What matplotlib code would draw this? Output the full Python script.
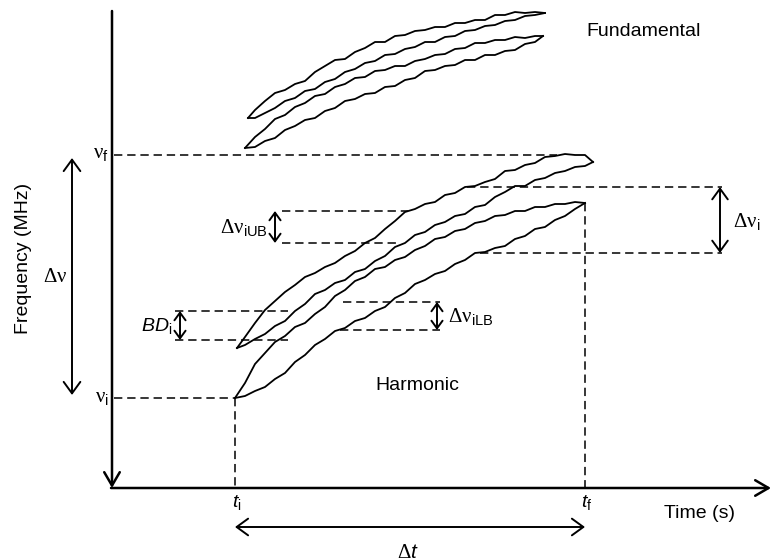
import matplotlib
matplotlib.use("Agg")
import matplotlib.pyplot as plt

plt.rcParams['font.family'] = ['Liberation Sans', 'DejaVu Sans']
plt.rcParams['mathtext.fontset'] = 'custom'
plt.rcParams['mathtext.rm'] = 'Liberation Serif'
plt.rcParams['mathtext.sf'] = 'Liberation Sans'
plt.rcParams['mathtext.it'] = 'Liberation Sans:italic'
plt.rcParams['mathtext.bf'] = 'Liberation Sans:bold'
plt.rcParams['lines.scale_dashes'] = False

# sketch units: time to the right, frequency drawn downwards (y axis inverted)
# harmonic band, upper lobe
h1_t = [237, 245, 255, 265, 275, 285, 295, 305, 315, 325, 335, 345, 355, 365, 375,
        385, 395, 405, 415, 425, 435, 445, 455, 465, 475, 485, 495, 505, 515, 525,
        535, 545, 555, 565, 575, 585, 593]
h1_top = [348, 337, 323, 310, 301, 292, 285, 277, 273, 267, 263, 256, 251, 243, 238,
          229, 221, 212, 209, 204, 202, 195, 193, 187, 186, 182, 179, 171, 170, 165,
          163, 157, 156, 154, 155, 155, 162]
h1_bot = [348, 345, 339, 334, 326, 321, 311, 304, 294, 290, 283, 280, 272, 269, 261,
          256, 247, 243, 235, 232, 225, 222, 216, 214, 207, 205, 197, 192, 186, 186,
          180, 178, 173, 171, 167, 166, 162]

# harmonic band, lower lobe
h2_t = [235, 245, 255, 265, 275, 285, 295, 305, 315, 325, 335, 345, 355, 365, 375,
        385, 395, 405, 415, 425, 435, 445, 455, 465, 475, 485, 495, 505, 515, 525,
        535, 545, 555, 565, 575, 585]
h2_top = [398, 383, 364, 353, 342, 336, 327, 323, 314, 307, 296, 290, 281, 277, 269,
          267, 260, 257, 250, 246, 239, 237, 231, 229, 223, 221, 216, 215, 211, 211,
          207, 207, 204, 204, 202, 203]
h2_bot = [398, 396, 391, 387, 379, 373, 362, 355, 345, 339, 331, 328, 321, 318, 311,
          307, 298, 293, 284, 280, 274, 271, 264, 260, 253, 252, 248, 246, 239, 236,
          229, 227, 220, 216, 209, 203]

# fundamental band, upper lobe
f1_t = [248, 255, 265, 275, 285, 295, 305, 315, 325, 335, 345, 355, 365, 375, 385,
        395, 405, 415, 425, 435, 445, 455, 465, 475, 485, 495, 505, 515, 525, 535, 545]
f1_top = [118, 110, 101, 93, 90, 84, 81, 72, 66, 60, 59, 52, 48, 42, 42,
          36, 35, 31, 30, 27, 27, 23, 23, 20, 20, 15, 15, 12, 13, 12, 13]
f1_bot = [118, 118, 113, 108, 101, 98, 91, 89, 82, 79, 72, 69, 63, 61, 55,
          54, 49, 47, 42, 42, 37, 36, 31, 30, 26, 25, 21, 20, 16, 15, 13]

# fundamental band, lower lobe
f2_t = [245, 255, 265, 275, 285, 295, 305, 315, 325, 335, 345, 355, 365, 375, 385,
        395, 405, 415, 425, 435, 445, 455, 465, 475, 485, 495, 505, 515, 525, 535, 543]
f2_top = [148, 137, 129, 119, 115, 107, 103, 96, 94, 87, 84, 78, 77, 71, 70,
          66, 66, 61, 59, 55, 54, 49, 48, 43, 43, 40, 40, 37, 38, 36, 36]
f2_bot = [148, 147, 141, 138, 130, 126, 120, 118, 111, 108, 101, 99, 94, 93, 87,
          86, 80, 78, 71, 70, 66, 65, 60, 60, 55, 55, 51, 50, 44, 42, 36]

# reference levels
nu_f, nu_i = 155, 398
t_i, t_f = 235, 585
origin_t, origin_nu = 112, 488

fig = plt.figure(figsize=(7.74, 5.6), dpi=100)
ax = fig.add_axes([0, 0, 1, 1])
ax.set_xlim(0, 774)
ax.set_ylim(560, 0)
ax.axis('off')

for t, top, bot in [(h1_t, h1_top, h1_bot), (h2_t, h2_top, h2_bot),
                    (f1_t, f1_top, f1_bot), (f2_t, f2_top, f2_bot)]:
    ax.plot(t, top, color='k', lw=1.3, solid_joinstyle='round')
    ax.plot(t, bot, color='k', lw=1.3, solid_joinstyle='round')


def dashed(xs, ys):
    ax.plot(xs, ys, color='k', lw=1.1, dashes=(6, 3.5))


dashed([origin_t + 2, 557], [nu_f, nu_f])
dashed([origin_t + 2, t_i], [nu_i, nu_i])
dashed([t_i, t_i], [nu_i, origin_nu])
dashed([t_f, t_f], [203, origin_nu])
dashed([282, 408], [211, 211])
dashed([282, 400], [243, 243])
dashed([175, 288], [311, 311])
dashed([175, 288], [340, 340])
dashed([343, 440], [302, 302])
dashed([340, 440], [330, 330])
dashed([467, 722], [187, 187])
dashed([480, 722], [253, 253])


def dim_arrow(p0, p1, scale=10):
    ax.annotate('', xy=p1, xytext=p0,
                arrowprops=dict(arrowstyle='<->,head_length=0.55,head_width=0.4',
                                lw=1.4, color='k', shrinkA=0, shrinkB=0,
                                mutation_scale=scale))


# axes
ax.annotate('', xy=(origin_t, origin_nu), xytext=(origin_t, 11),
            arrowprops=dict(arrowstyle='->,head_length=0.6,head_width=0.35',
                            lw=1.8, color='k', shrinkA=0, shrinkB=0, mutation_scale=16))
ax.annotate('', xy=(771, origin_nu), xytext=(origin_t - 1, origin_nu),
            arrowprops=dict(arrowstyle='->,head_length=0.6,head_width=0.35',
                            lw=1.8, color='k', shrinkA=0, shrinkB=0, mutation_scale=16))

dim_arrow((72, 158), (72, 395), scale=15)
dim_arrow((275, 211), (275, 243))
dim_arrow((180, 311), (180, 340))
dim_arrow((437, 302), (437, 330))
dim_arrow((720, 187), (720, 253), scale=14)
dim_arrow((t_i, 527), (t_f, 527), scale=15)

fs = 14
ax.text(586, 32, 'Fundamental', fontsize=fs, ha='left', va='center')
ax.text(417, 385, 'Harmonic', fontsize=fs, ha='center', va='center')
ax.text(700, 513, 'Time (s)', fontsize=fs, ha='center', va='center')
ax.text(24, 258, 'Frequency (MHz)', fontsize=fs, ha='center', va='center', rotation=90)
ax.text(109, nu_f, r'$\mathrm{\nu}_{\mathsf{f}}$', fontsize=fs + 1, ha='right', va='center')
ax.text(109, nu_i, r'$\mathrm{\nu}_{\mathsf{i}}$', fontsize=fs + 1, ha='right', va='center')
ax.text(55, 277, r'$\mathrm{\Delta\nu}$', fontsize=fs + 1, ha='center', va='center')
ax.text(t_i + 2, 503, r'$t_{\mathsf{i}}$', fontsize=fs, ha='center', va='center')
ax.text(t_f + 2, 503, r'$t_{\mathsf{f}}$', fontsize=fs, ha='center', va='center')
ax.text(408, 552, r'$\mathrm{\Delta}t$', fontsize=fs + 1, ha='center', va='center')
ax.text(733, 222, r'$\mathrm{\Delta\nu}_{\mathsf{i}}$', fontsize=fs + 1, ha='left', va='center')
ax.text(268, 228, r'$\mathrm{\Delta\nu}_{\mathsf{iUB}}$', fontsize=fs + 1, ha='right', va='center')
ax.text(448, 317, r'$\mathrm{\Delta\nu}_{\mathsf{iLB}}$', fontsize=fs + 1, ha='left', va='center')
ax.text(172, 326, r'$BD_{\mathsf{i}}$', fontsize=fs, ha='right', va='center')

fig.savefig('out.png', dpi=100)
